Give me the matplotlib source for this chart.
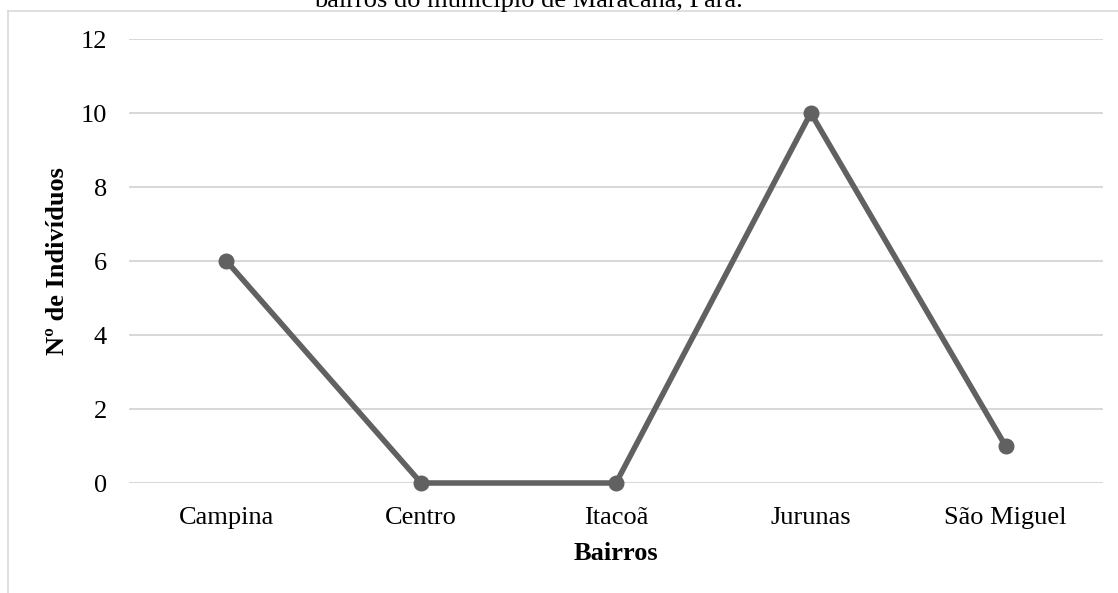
import matplotlib
matplotlib.use("Agg")
import matplotlib.pyplot as plt
from matplotlib.lines import Line2D

bairros = ["Campina", "Centro", "Itacoã", "Jurunas", "São Miguel"]
individuos = [6, 0, 0, 10, 1]
yticks = [0, 2, 4, 6, 8, 10, 12]

plt.rcParams["font.family"] = ["Liberation Serif", "DejaVu Serif"]

W, H = 1118, 593
fig = plt.figure(figsize=(W / 100, H / 100), dpi=100)

# plot area in pixel coordinates
left, right = 129, 1103
top, bottom = 39, 483
ax = fig.add_axes([left / W, 1 - bottom / H, (right - left) / W, (bottom - top) / H])

x = list(range(len(bairros)))
ax.plot(x, individuos, color="#616161", linewidth=4.0, marker="o",
        markersize=10.5, solid_capstyle="round", zorder=3, clip_on=False)

FS = 19
ax.set_xlim(-0.5, len(bairros) - 0.5)
ax.set_ylim(0, 12)
ax.set_yticks(yticks)
ax.set_xticks(x)
ax.set_xticklabels(bairros)
ax.tick_params(axis="both", length=0, labelsize=FS, colors="black")
ax.tick_params(axis="y", pad=16)
ax.tick_params(axis="x", pad=17)
ax.grid(axis="y", color="#d9d9d9", linewidth=1.5)
ax.set_axisbelow(True)
for s in ax.spines.values():
    s.set_visible(False)

ax.set_xlabel("Bairros", fontsize=FS, fontweight="bold", labelpad=10)
ax.set_ylabel("Nº de Indivíduos", fontsize=FS, fontweight="bold", labelpad=8)

# outer chart frame (top and left edges)
fig.add_artist(Line2D([7.5 / W, 1], [1 - 10.5 / H, 1 - 10.5 / H], color="#d9d9d9",
                      linewidth=1.2, transform=fig.transFigure))
fig.add_artist(Line2D([7.5 / W, 7.5 / W], [0, 1 - 10.5 / H], color="#d9d9d9",
                      linewidth=1.2, transform=fig.transFigure))

# caption line above the chart
fig.text(528 / W, 1 - 7 / H, "bairros do município de Maracanã, Pará.",
         ha="center", va="baseline", fontsize=FS)

fig.savefig("out.png", dpi=100)
